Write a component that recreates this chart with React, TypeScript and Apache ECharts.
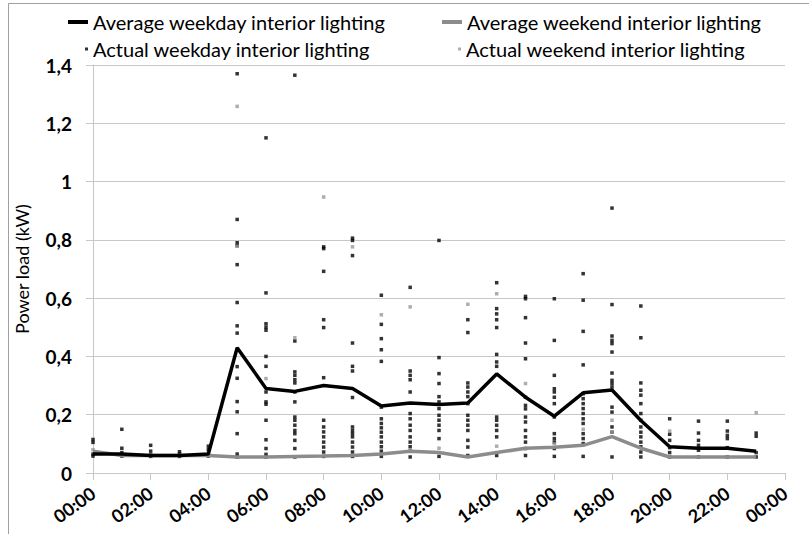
import React, { useEffect, useRef } from 'react';
import * as echarts from 'echarts';

const hours = [0, 1, 2, 3, 4, 5, 6, 7, 8, 9, 10, 11, 12, 13, 14, 15, 16, 17, 18, 19, 20, 21, 22, 23];

const weekdayAverage = [0.065, 0.065, 0.06, 0.06, 0.065, 0.43, 0.29, 0.28, 0.3, 0.29, 0.23, 0.24, 0.235, 0.24, 0.34, 0.26, 0.195, 0.275, 0.285, 0.18, 0.09, 0.085, 0.085, 0.075];
const weekendAverage = [0.075, 0.06, 0.06, 0.06, 0.06, 0.055, 0.055, 0.057, 0.058, 0.06, 0.065, 0.075, 0.07, 0.055, 0.07, 0.085, 0.088, 0.095, 0.125, 0.085, 0.055, 0.055, 0.055, 0.055];

const weekdayActual: number[][] = [
  [0.115, 0.105, 0.065, 0.058],
  [0.15, 0.085, 0.07, 0.058],
  [0.095, 0.075, 0.062, 0.057],
  [0.073, 0.065, 0.057],
  [0.092, 0.08, 0.065, 0.058],
  [1.37, 0.87, 0.79, 0.78, 0.715, 0.585, 0.505, 0.48, 0.365, 0.325, 0.245, 0.21, 0.135, 0.065, 0.055],
  [1.15, 0.618, 0.512, 0.5, 0.49, 0.4, 0.366, 0.278, 0.244, 0.236, 0.181, 0.114, 0.084, 0.064, 0.055],
  [1.365, 0.453, 0.347, 0.335, 0.32, 0.309, 0.278, 0.244, 0.192, 0.181, 0.164, 0.146, 0.135, 0.112, 0.084, 0.055],
  [0.776, 0.77, 0.692, 0.526, 0.499, 0.327, 0.181, 0.158, 0.141, 0.124, 0.106, 0.089, 0.072, 0.057],
  [0.806, 0.798, 0.746, 0.446, 0.366, 0.35, 0.259, 0.158, 0.146, 0.135, 0.124, 0.106, 0.089, 0.072, 0.057],
  [0.61, 0.51, 0.461, 0.423, 0.383, 0.226, 0.186, 0.17, 0.155, 0.14, 0.124, 0.106, 0.09, 0.075, 0.057],
  [0.637, 0.35, 0.335, 0.32, 0.278, 0.204, 0.186, 0.164, 0.146, 0.124, 0.106, 0.09, 0.075, 0.055],
  [0.798, 0.396, 0.341, 0.307, 0.262, 0.244, 0.221, 0.198, 0.181, 0.164, 0.146, 0.118, 0.057],
  [0.526, 0.482, 0.309, 0.295, 0.278, 0.262, 0.238, 0.198, 0.181, 0.164, 0.146, 0.112, 0.089, 0.06],
  [0.653, 0.564, 0.546, 0.526, 0.499, 0.407, 0.381, 0.366, 0.192, 0.181, 0.164, 0.146, 0.124, 0.06],
  [0.606, 0.598, 0.533, 0.446, 0.392, 0.26, 0.232, 0.22, 0.192, 0.175, 0.146, 0.124, 0.106, 0.084, 0.06],
  [0.598, 0.455, 0.335, 0.289, 0.278, 0.26, 0.238, 0.192, 0.135, 0.118, 0.106, 0.084, 0.057],
  [0.684, 0.593, 0.486, 0.371, 0.272, 0.255, 0.238, 0.221, 0.204, 0.186, 0.17, 0.135, 0.118, 0.101, 0.057],
  [0.909, 0.578, 0.47, 0.455, 0.444, 0.415, 0.343, 0.318, 0.307, 0.295, 0.226, 0.209, 0.158, 0.14, 0.055],
  [0.573, 0.464, 0.309, 0.284, 0.267, 0.238, 0.204, 0.181, 0.158, 0.14, 0.124, 0.106, 0.09, 0.072, 0.055],
  [0.186, 0.133, 0.112, 0.087, 0.07, 0.055],
  [0.178, 0.137, 0.112, 0.095, 0.078, 0.055],
  [0.178, 0.144, 0.129, 0.118, 0.087, 0.055],
  [0.137, 0.126, 0.07, 0.055],
];

const weekendActual: number[][] = [
  [0.08], [], [], [], [],
  [1.258, 0.778], [0.324], [0.464], [0.947], [0.776], [0.543], [0.57],
  [0.085], [0.579], [0.615, 0.092], [0.307], [0.1], [0.15], [0.181, 0.14],
  [], [0.144], [], [], [0.207],
];

const LEGEND_NAMES = [
  'Average weekday interior lighting',
  'Average weekend interior lighting',
  'Actual weekday interior lighting',
  'Actual weekend interior lighting',
];

const FONT = 'Lato, "Open Sans", sans-serif';

export default function App() {
  const ref = useRef<HTMLDivElement>(null);
  useEffect(() => {
    if (!ref.current) return;
    const chart = echarts.init(ref.current, null, { renderer: 'svg' });
    const weekdayPts = weekdayActual.flatMap((vals, h) => vals.map((v) => [hours[h], v]));
    const weekendPts = weekendActual.flatMap((vals, h) => vals.map((v) => [hours[h], v]));
    const legendText = { fontFamily: FONT, fontSize: 20, color: '#000' };
    chart.setOption({
      animation: false,
      backgroundColor: '#fff',
      graphic: [
        {
          type: 'rect',
          shape: { x: 8.5, y: 3.5, width: 1000, height: 1000 },
          style: { fill: 'none', stroke: '#a0a0a0', lineWidth: 1 },
          silent: true,
        },
      ],
      legend: [
        { data: [LEGEND_NAMES[0]], left: 63, top: 7, icon: 'rect', itemWidth: 20, itemHeight: 4, textStyle: legendText, selectedMode: false },
        { data: [LEGEND_NAMES[1]], left: 437, top: 7, icon: 'rect', itemWidth: 20, itemHeight: 4, textStyle: legendText, selectedMode: false },
        { data: [LEGEND_NAMES[2]], left: 80, top: 34, icon: 'rect', itemWidth: 3, itemHeight: 3, textStyle: legendText, selectedMode: false },
        { data: [LEGEND_NAMES[3]], left: 453, top: 34, icon: 'rect', itemWidth: 3, itemHeight: 3, textStyle: legendText, selectedMode: false },
      ],
      grid: { left: 93, right: 24, top: 65, bottom: 61, containLabel: false },
      xAxis: {
        type: 'value',
        min: 0,
        max: 24,
        interval: 2,
        axisLine: { show: true, lineStyle: { color: '#c8c8c8', width: 1 } },
        axisTick: { show: true, length: 7, lineStyle: { color: '#c8c8c8' } },
        splitLine: { show: false },
        axisLabel: {
          rotate: 36,
          margin: 18,
          fontFamily: FONT,
          fontWeight: 'bold',
          fontSize: 18,
          color: '#000',
          formatter: (v: number) => String(v % 24).padStart(2, '0') + ':00',
        },
      },
      yAxis: {
        type: 'value',
        min: 0,
        max: 1.4,
        interval: 0.2,
        name: 'Power load (kW)',
        nameLocation: 'middle',
        nameGap: 62,
        nameTextStyle: { fontFamily: FONT, fontSize: 18, color: '#000' },
        axisLine: { show: true, lineStyle: { color: '#c8c8c8', width: 1 } },
        axisTick: { show: true, length: 7, lineStyle: { color: '#c8c8c8' } },
        splitLine: { show: true, lineStyle: { color: '#c8c8c8', width: 1 } },
        axisLabel: {
          margin: 21,
          fontFamily: FONT,
          fontWeight: 'bold',
          fontSize: 19,
          color: '#000',
          formatter: (v: number) => String(+v.toFixed(1)).replace('.', ','),
        },
      },
      series: [
        {
          name: LEGEND_NAMES[2],
          type: 'scatter',
          data: weekdayPts,
          symbol: 'rect',
          symbolSize: 3.5,
          itemStyle: { color: '#000' },
          z: 2,
        },
        {
          name: LEGEND_NAMES[3],
          type: 'scatter',
          data: weekendPts,
          symbol: 'rect',
          symbolSize: 3.5,
          itemStyle: { color: '#999' },
          z: 2,
        },
        {
          name: LEGEND_NAMES[0],
          type: 'line',
          data: hours.map((h, i) => [h, weekdayAverage[i]]),
          symbol: 'none',
          lineStyle: { color: '#000', width: 3.5 },
          itemStyle: { color: '#000' },
          z: 4,
        },
        {
          name: LEGEND_NAMES[1],
          type: 'line',
          data: hours.map((h, i) => [h, weekendAverage[i]]),
          symbol: 'none',
          lineStyle: { color: '#8c8c8c', width: 3.5 },
          itemStyle: { color: '#8c8c8c' },
          z: 3,
        },
      ],
    });
    return () => chart.dispose();
  }, []);
  return (
    <div
      ref={ref}
      style={{ position: 'fixed', left: 0, top: 0, width: 809, height: 534 }}
    />
  );
}
